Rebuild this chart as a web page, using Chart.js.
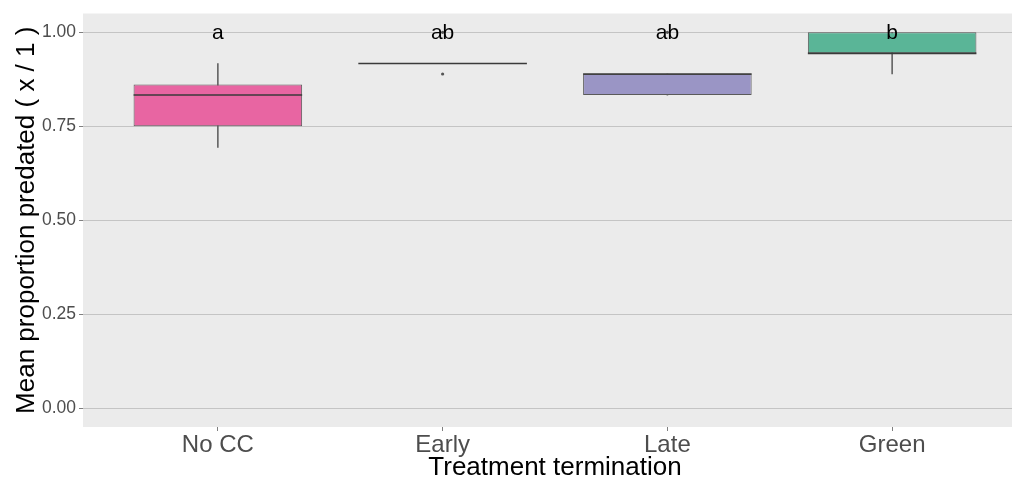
<!DOCTYPE html>
<html>
<head>
<meta charset="utf-8">
<script src="https://cdn.jsdelivr.net/npm/chart.js@4"></script>
<style>
  html, body { margin: 0; padding: 0; background: #ffffff; overflow: hidden; }
  #wrap { width: 1012px; height: 478px; position: relative; overflow: hidden; }
</style>
</head>
<body>
<div id="wrap"><canvas id="c" width="1031" height="478"></canvas></div>
<script>
// Treatment groups and their box-plot summaries
const categories = ['No CC', 'Early', 'Late', 'Green'];
const whiskerLow  = [0.694, 0.917, 0.833, 0.889];
const boxLow      = [0.750, 0.917, 0.833, 0.944];
const medians     = [0.833, 0.917, 0.889, 0.944];
const boxHigh     = [0.861, 0.917, 0.889, 1.000];
const whiskerHigh = [0.917, 0.917, 0.889, 1.000];
// Outlying observations: [group index (1-based), value]
const outlierGroup = [2, 2, 3];
const outlierValue = [0.889, 1.000, 1.000];
// Compact-letter display above each group
const letters = ['a', 'ab', 'ab', 'b'];
const letterY = 1.0;
const yTicks = [0, 0.25, 0.5, 0.75, 1.0];
const boxFills = ['#E865A2', '#EBEBEB', '#9A95C5', '#5AB597'];

const FONT = '"Liberation Sans", Arial, sans-serif';
const xPos = categories.map((_, i) => i + 1);

// Panel background, median bars and group letters
const panelPlugin = {
  id: 'panelExtras',
  beforeDraw(chart) {
    const { ctx, chartArea: a } = chart;
    ctx.save();
    ctx.fillStyle = '#EBEBEB';
    ctx.fillRect(a.left, a.top, a.right - a.left + 5, a.bottom - a.top);
    ctx.restore();
  },
  afterDatasetsDraw(chart) {
    const { ctx, scales: { x, y } } = chart;
    const half = (x.getPixelForValue(1.375) - x.getPixelForValue(1));
    ctx.save();
    ctx.strokeStyle = '#3A3A3A';
    ctx.lineWidth = 1.6;
    medians.forEach((m, i) => {
      const cx = x.getPixelForValue(xPos[i]);
      const py = y.getPixelForValue(m);
      ctx.beginPath();
      ctx.moveTo(cx - half, py);
      ctx.lineTo(cx + half, py);
      ctx.stroke();
    });
    ctx.fillStyle = '#000000';
    ctx.font = '21px ' + FONT;
    ctx.textAlign = 'center';
    ctx.textBaseline = 'middle';
    letters.forEach((t, i) => {
      ctx.fillText(t, x.getPixelForValue(xPos[i]), y.getPixelForValue(letterY) + 1);
    });
    ctx.restore();
  }
};

new Chart(document.getElementById('c'), {
  type: 'bar',
  data: {
    datasets: [
      {
        type: 'scatter',
        label: 'outliers',
        data: outlierGroup.map((g, i) => ({ x: g, y: outlierValue[i] })),
        pointRadius: 1.6,
        pointBackgroundColor: '#555555',
        pointBorderWidth: 0,
        order: 0
      },
      {
        label: 'boxes',
        data: xPos.map((p, i) => ({ x: p, y: [boxLow[i], boxHigh[i]] })),
        backgroundColor: boxFills,
        borderColor: '#5A5A5A',
        borderWidth: 1,
        borderSkipped: false,
        grouped: false,
        barPercentage: 0.75,
        categoryPercentage: 1.0,
        order: 1
      },
      {
        label: 'whiskers',
        data: xPos.map((p, i) => ({ x: p, y: [whiskerLow[i], whiskerHigh[i]] })),
        backgroundColor: '#666666',
        borderWidth: 0,
        grouped: false,
        barThickness: 1,
        order: 2
      }
    ]
  },
  options: {
    responsive: false,
    animation: false,
    events: [],
    layout: { padding: { top: 11, right: 0, left: 0, bottom: 0 } },
    plugins: { legend: { display: false }, tooltip: { enabled: false } },
    scales: {
      x: {
        type: 'linear',
        offset: false,
        min: 0.4,
        max: 4.6,
        afterBuildTicks: s => { s.ticks = xPos.map(v => ({ value: v })); },
        afterFit: s => { s.height = 51; },
        ticks: {
          callback: v => categories[v - 1],
          color: '#4D4D4D',
          font: { family: FONT, size: 24 },
          padding: 0,
          maxRotation: 0,
          autoSkip: false
        },
        grid: { offset: false, drawOnChartArea: false, drawTicks: true, tickLength: 4, color: '#7F7F7F' },
        border: { display: false },
        title: {
          display: true,
          text: 'Treatment termination',
          color: '#000000',
          font: { family: FONT, size: 26, lineHeight: 0.77 },
          padding: { top: 0, bottom: 0 }
        }
      },
      y: {
        min: -0.05,
        max: 1.05,
        afterBuildTicks: s => { s.ticks = yTicks.map(v => ({ value: v })); },
        afterFit: s => { s.width = 83; },
        ticks: {
          callback: v => v.toFixed(2),
          color: '#4D4D4D',
          font: { family: FONT, size: 17.5 },
          padding: 3
        },
        grid: { color: '#C4C4C4', lineWidth: 1, tickLength: 4, tickColor: '#7F7F7F' },
        border: { display: false },
        title: {
          display: true,
          text: 'Mean proportion predated ( x / 1 )',
          color: '#000000',
          font: { family: FONT, size: 26, lineHeight: 1.0 },
          padding: { top: 14, bottom: 0 }
        }
      }
    }
  },
  plugins: [panelPlugin]
});
</script>
</body>
</html>
